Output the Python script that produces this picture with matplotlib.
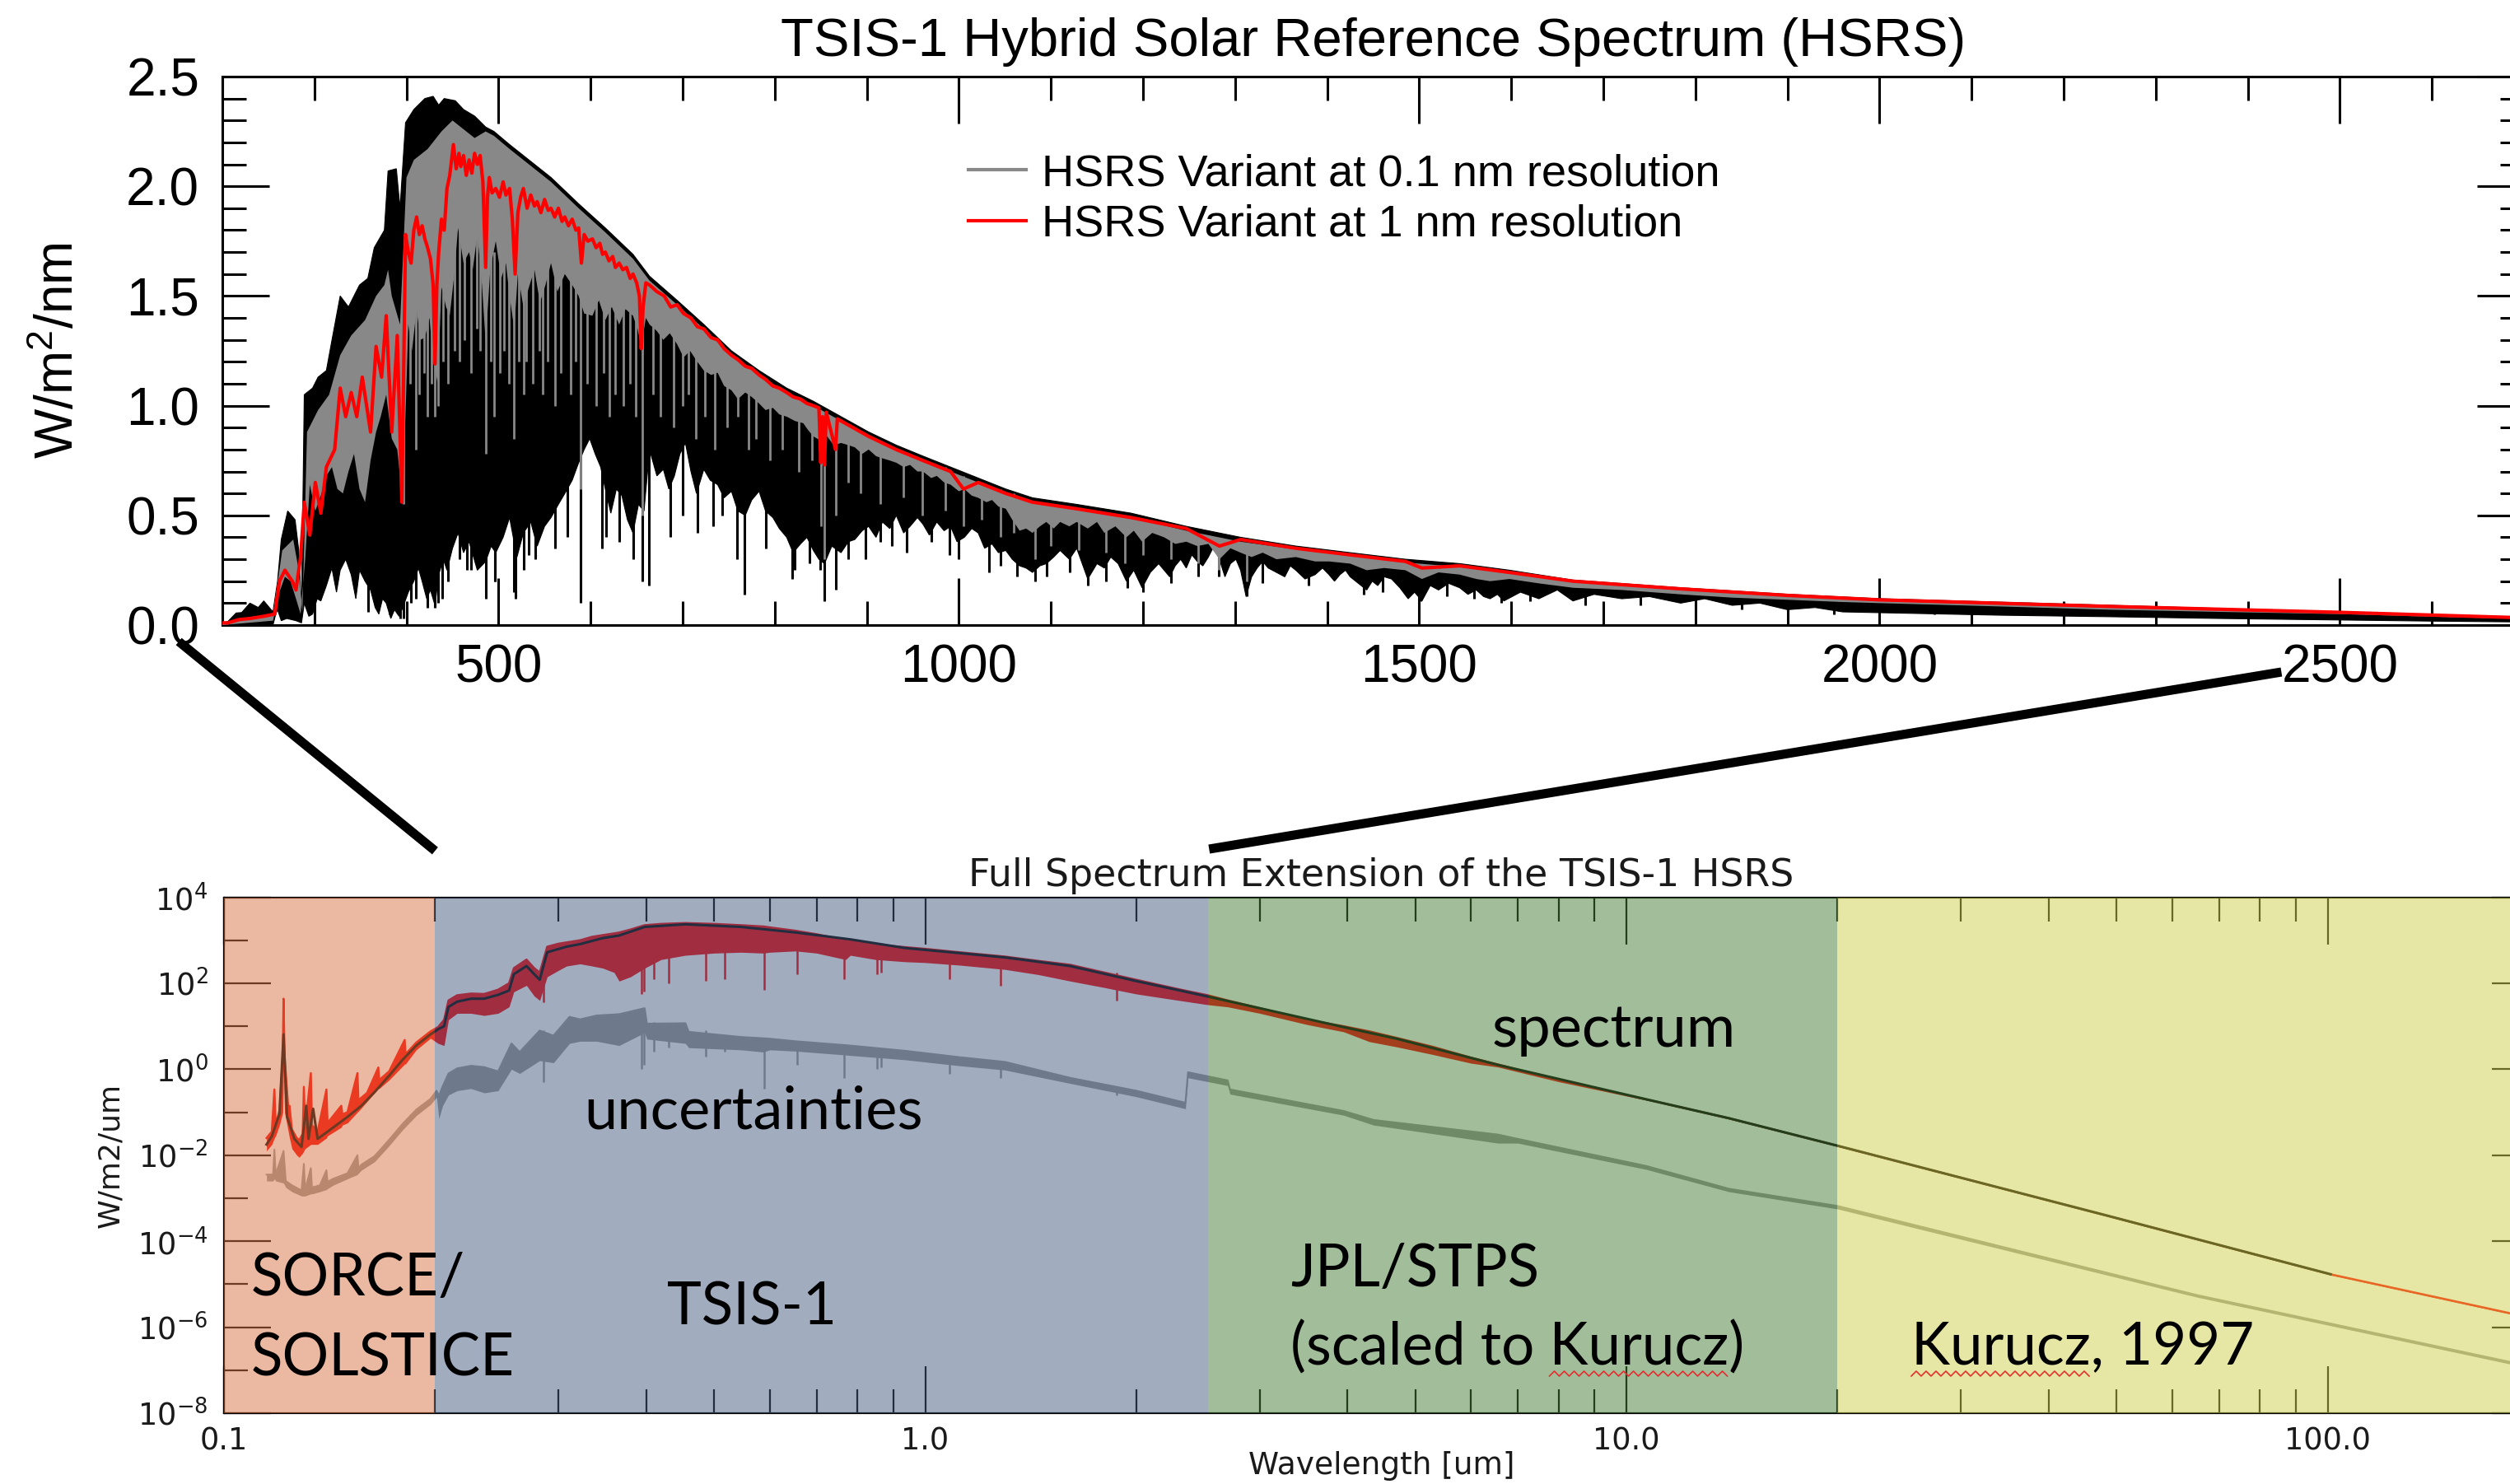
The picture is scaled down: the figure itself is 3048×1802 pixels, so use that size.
import numpy as np
import matplotlib
matplotlib.use("Agg")
import matplotlib.pyplot as plt
from matplotlib.patches import ConnectionPatch
from matplotlib.lines import Line2D
from matplotlib.ticker import (MultipleLocator, FixedLocator, FuncFormatter,
                               NullFormatter, LogLocator)

plt.rcParams['font.family'] = ['Liberation Sans', 'DejaVu Sans']

# ---------------------------------------------------------------------------
# Upper panel: HSRS in W/m^2/nm versus wavelength in nm
# ---------------------------------------------------------------------------
# high-resolution spectrum, upper envelope
hires_hi_nm = [200, 206, 215, 221, 230, 239, 245, 255, 260, 264, 271, 279, 283, 286,
               289, 298, 304, 313, 320, 328, 337, 349, 358, 365, 376, 380, 389, 393,
               399, 408, 420, 429, 435, 441, 453, 462, 474, 486, 495, 512, 527, 557,
               587, 616, 646, 664, 694, 723, 753, 783, 813, 842, 872, 902, 932, 961,
               991, 1021, 1051, 1080, 1128, 1187, 1247, 1306, 1366, 1425, 1485, 1544,
               1598, 1667, 1784, 1901, 2000, 2250, 2500, 2700]
hires_hi_val = [0.01, 0.016, 0.055, 0.057, 0.10, 0.08, 0.11, 0.06, 0.20, 0.39, 0.52, 0.48,
                0.34, 0.07, 1.05, 1.08, 1.13, 1.16, 1.32, 1.50, 1.45, 1.55, 1.58, 1.72,
                1.80, 2.07, 2.08, 1.90, 2.29, 2.35, 2.40, 2.41, 2.37, 2.40, 2.39, 2.35,
                2.32, 2.27, 2.25, 2.19, 2.14, 2.04, 1.92, 1.81, 1.69, 1.59, 1.48, 1.37,
                1.25, 1.16, 1.08, 1.02, 0.95, 0.88, 0.82, 0.77, 0.72, 0.67, 0.62, 0.58,
                0.55, 0.51, 0.45, 0.40, 0.36, 0.33, 0.30, 0.28, 0.25, 0.205, 0.17, 0.14,
                0.12, 0.09, 0.06, 0.035]

# high-resolution spectrum, lower envelope (line cores)
hires_lo_nm = [200, 255, 258, 260, 264, 270, 280, 286, 289, 294, 298, 303, 307, 313, 319,
               324, 328, 334, 340, 345, 349, 355, 361, 366, 370, 374, 378, 383, 387, 392,
               396, 402, 408, 413, 417, 422, 426, 431, 435, 440, 444, 450, 456, 462, 468,
               477, 486, 492, 497, 505, 512, 520, 527, 535, 542, 550, 557, 565, 572, 580,
               587, 593, 599, 605, 611, 617, 622, 628, 634, 640, 646, 652, 658, 664, 672,
               679, 685, 691, 697, 703, 709, 715, 723, 730, 738, 745, 753, 760, 768, 775,
               783, 790, 798, 805, 813, 820, 828, 835, 842, 848, 854, 862, 872, 880, 887,
               895, 902, 910, 917, 925, 932, 940, 947, 955, 961, 968, 976, 984, 991, 998,
               1006, 1014, 1021, 1028, 1036, 1043, 1051, 1058, 1066, 1073, 1080, 1088,
               1095, 1103, 1110, 1120, 1128, 1140, 1150, 1158, 1165, 1173, 1182, 1190,
               1199, 1208, 1217, 1223, 1229, 1235, 1241, 1247, 1253, 1259, 1265, 1271,
               1277, 1283, 1289, 1295, 1301, 1306, 1312, 1318, 1324, 1330, 1336, 1345,
               1354, 1360, 1366, 1376, 1387, 1395, 1402, 1408, 1414, 1420, 1425, 1434,
               1443, 1449, 1455, 1462, 1470, 1479, 1488, 1495, 1503, 1512, 1521, 1532,
               1544, 1553, 1562, 1570, 1577, 1585, 1592, 1610, 1630, 1650, 1667, 1690,
               1720, 1750, 1784, 1810, 1840, 1870, 1900, 1930, 1960, 2017, 2130, 2250,
               2370, 2483, 2600, 2700]
hires_lo_val = [0.00, 0.00, 0.05, 0.07, 0.02, 0.03, 0.02, 0.01, 0.10, 0.04, 0.05, 0.12, 0.11,
                0.18, 0.26, 0.15, 0.25, 0.30, 0.23, 0.12, 0.25, 0.20, 0.16, 0.08, 0.05,
                0.12, 0.10, 0.03, 0.07, 0.04, 0.08, 0.15, 0.20, 0.26, 0.20, 0.12, 0.16,
                0.09, 0.23, 0.30, 0.25, 0.35, 0.42, 0.33, 0.38, 0.25, 0.29, 0.36, 0.33,
                0.40, 0.49, 0.31, 0.42, 0.47, 0.36, 0.45, 0.49, 0.55, 0.60, 0.66, 0.74,
                0.80, 0.85, 0.78, 0.72, 0.60, 0.51, 0.62, 0.59, 0.48, 0.42, 0.55, 0.52,
                0.80, 0.68, 0.71, 0.62, 0.68, 0.78, 0.83, 0.70, 0.60, 0.71, 0.66, 0.64,
                0.58, 0.61, 0.52, 0.50, 0.57, 0.61, 0.52, 0.49, 0.44, 0.40, 0.33, 0.37,
                0.40, 0.34, 0.30, 0.28, 0.36, 0.33, 0.38, 0.39, 0.43, 0.45, 0.40, 0.47,
                0.44, 0.50, 0.42, 0.45, 0.49, 0.46, 0.41, 0.47, 0.43, 0.45, 0.38, 0.40,
                0.44, 0.42, 0.35, 0.37, 0.33, 0.34, 0.30, 0.27, 0.26, 0.24, 0.27, 0.28,
                0.31, 0.34, 0.30, 0.35, 0.21, 0.28, 0.26, 0.31, 0.28, 0.20, 0.25, 0.17,
                0.24, 0.28, 0.25, 0.22, 0.27, 0.30, 0.26, 0.32, 0.29, 0.27, 0.31, 0.36,
                0.30, 0.22, 0.28, 0.30, 0.25, 0.13, 0.22, 0.26, 0.29, 0.26, 0.24, 0.22,
                0.27, 0.25, 0.21, 0.23, 0.26, 0.23, 0.20, 0.23, 0.25, 0.22, 0.19, 0.16,
                0.20, 0.18, 0.22, 0.21, 0.17, 0.12, 0.15, 0.11, 0.18, 0.16, 0.19, 0.17,
                0.14, 0.16, 0.13, 0.12, 0.14, 0.11, 0.15, 0.12, 0.16, 0.11, 0.14, 0.12,
                0.13, 0.10, 0.12, 0.09, 0.10, 0.07, 0.08, 0.06, 0.055, 0.045, 0.038,
                0.03, 0.024, 0.018, 0.014]

# 0.1 nm variant, upper and lower envelopes
v01_hi_nm = [200, 255, 262, 265, 277, 283, 287, 292, 304, 316, 328, 340, 355, 367, 376,
             380, 384, 393, 400, 408, 423, 438, 450, 459, 474, 486, 495, 512, 527, 557,
             587, 616, 646, 664, 694, 723, 753, 783, 813, 842, 872, 902, 932, 961, 991,
             1021, 1051, 1080, 1128, 1187, 1247, 1306, 1366, 1425, 1485, 1544, 1598,
             1667, 1784, 1901, 2000, 2250, 2500, 2700]
v01_hi_val = [0.01, 0.05, 0.25, 0.34, 0.39, 0.25, 0.06, 0.88, 0.98, 1.05, 1.23, 1.32, 1.39,
              1.50, 1.55, 1.62, 1.50, 1.37, 2.04, 2.12, 2.17, 2.25, 2.30, 2.27, 2.22,
              2.25, 2.23, 2.17, 2.12, 2.02, 1.90, 1.79, 1.67, 1.57, 1.46, 1.35, 1.23,
              1.14, 1.06, 1.00, 0.93, 0.86, 0.80, 0.75, 0.70, 0.65, 0.60, 0.56, 0.53,
              0.49, 0.43, 0.38, 0.345, 0.315, 0.285, 0.265, 0.235, 0.195, 0.16, 0.13,
              0.11, 0.08, 0.055, 0.03]
v01_lo_nm = [200, 255, 262, 268, 274, 280, 285, 290, 295, 301, 307, 313, 319, 325, 331,
             337, 343, 349, 355, 361, 367, 372, 378, 384, 390, 396, 402, 406, 411, 415,
             420, 425, 429, 434, 438, 443, 447, 452, 456, 462, 468, 472, 477, 482, 486,
             491, 497, 503, 508, 512, 517, 521, 527, 533, 539, 545, 551, 557, 564, 572,
             580, 587, 593, 602, 609, 616, 623, 631, 638, 646, 651, 655, 660, 664, 672,
             679, 686, 694, 701, 708, 716, 723, 731, 738, 745, 753, 760, 768, 775, 783,
             790, 798, 805, 813, 822, 831, 836, 842, 850, 857, 864, 872, 880, 887, 895,
             902, 910, 917, 925, 932, 940, 947, 955, 961, 970, 976, 984, 991, 1000, 1006,
             1014, 1021, 1030, 1036, 1043, 1051, 1058, 1066, 1073, 1080, 1088, 1095,
             1103, 1110, 1120, 1128, 1140, 1150, 1158, 1170, 1182, 1190, 1199, 1210,
             1223, 1235, 1247, 1259, 1271, 1283, 1295, 1306, 1318, 1330, 1345, 1366,
             1387, 1402, 1425, 1443, 1462, 1485, 1503, 1521, 1544, 1562, 1577, 1598,
             1630, 1667, 1720, 1784, 1840, 1901, 1960, 2000, 2130, 2250, 2370, 2500,
             2600, 2700]
v01_lo_val = [0.00, 0.02, 0.15, 0.22, 0.20, 0.12, 0.05, 0.30, 0.64, 0.52, 0.59, 0.68, 0.72,
              0.62, 0.60, 0.70, 0.78, 0.62, 0.56, 0.75, 0.88, 0.95, 1.05, 0.85, 0.80,
              0.56, 1.37, 1.25, 1.44, 1.30, 1.31, 1.40, 1.21, 1.10, 1.54, 1.45, 1.41,
              1.60, 1.81, 1.65, 1.70, 1.62, 1.78, 1.55, 1.29, 1.62, 1.75, 1.58, 1.65,
              1.50, 1.35, 1.60, 1.45, 1.54, 1.62, 1.47, 1.55, 1.65, 1.52, 1.60, 1.55,
              1.50, 1.42, 1.41, 1.48, 1.39, 1.45, 1.37, 1.44, 1.41, 1.35, 1.27, 1.40,
              1.37, 1.34, 1.30, 1.33, 1.28, 1.22, 1.25, 1.20, 1.16, 1.14, 1.15, 1.09,
              1.07, 1.03, 1.06, 1.04, 1.01, 0.98, 0.99, 0.96, 0.95, 0.93, 0.92, 0.89,
              0.86, 0.84, 0.86, 0.82, 0.83, 0.82, 0.81, 0.78, 0.80, 0.77, 0.76, 0.75,
              0.74, 0.72, 0.73, 0.70, 0.70, 0.67, 0.68, 0.65, 0.64, 0.61, 0.62, 0.59,
              0.58, 0.56, 0.57, 0.54, 0.53, 0.48, 0.43, 0.44, 0.42, 0.45, 0.47, 0.44,
              0.47, 0.45, 0.47, 0.44, 0.47, 0.42, 0.45, 0.40, 0.43, 0.38, 0.42, 0.40,
              0.37, 0.38, 0.36, 0.37, 0.30, 0.35, 0.33, 0.31, 0.33, 0.30, 0.31, 0.29,
              0.29, 0.28, 0.25, 0.26, 0.25, 0.21, 0.24, 0.23, 0.21, 0.20, 0.21, 0.19,
              0.17, 0.16, 0.14, 0.125, 0.115, 0.105, 0.10, 0.085, 0.07, 0.06, 0.05,
              0.038, 0.028]

# 1 nm variant
v1_nm = [200, 206, 218, 230, 245, 257, 262, 268, 276, 280, 285, 289, 295, 301, 307, 313,
         322, 328, 334, 340, 346, 352, 361, 367, 373, 378, 384, 390, 395, 399, 402, 405,
         408, 411, 414, 417, 420, 423, 426, 429, 431, 433, 435, 438, 441, 444, 447, 451,
         454, 457, 459, 462, 465, 468, 471, 474, 477, 480, 483, 486, 488, 490, 493, 497,
         501, 505, 508, 512, 515, 518, 521, 524, 527, 531, 535, 539, 542, 546, 550, 554,
         557, 561, 565, 569, 572, 576, 580, 584, 587, 590, 593, 597, 602, 606, 610, 613,
         616, 620, 624, 627, 631, 635, 639, 643, 646, 650, 653, 655, 657, 660, 664, 672,
         680, 687, 694, 701, 709, 716, 723, 731, 738, 745, 753, 760, 768, 775, 783, 790,
         798, 805, 813, 820, 828, 835, 842, 848, 850, 852, 854, 856, 866, 868, 902, 932,
         961, 991, 1005, 1021, 1051, 1080, 1128, 1187, 1247, 1283, 1306, 1366, 1425,
         1485, 1503, 1544, 1598, 1667, 1784, 1901, 2000, 2250, 2500, 2700]
v1_val = [0.01, 0.01, 0.025, 0.03, 0.04, 0.05, 0.20, 0.25, 0.20, 0.16, 0.31, 0.56, 0.41,
          0.65, 0.51, 0.72, 0.80, 1.08, 0.95, 1.06, 0.95, 1.13, 0.88, 1.27, 1.13, 1.41,
          0.88, 1.32, 0.56, 1.78, 1.70, 1.65, 1.80, 1.86, 1.78, 1.82, 1.76, 1.72, 1.67,
          1.55, 1.19, 1.55, 1.70, 1.85, 1.80, 1.99, 2.05, 2.19, 2.08, 2.15, 2.09, 2.14,
          2.05, 2.12, 2.06, 2.15, 2.10, 2.14, 2.02, 1.63, 1.95, 2.04, 1.97, 1.99, 1.95,
          2.02, 1.96, 1.99, 1.85, 1.60, 1.88, 1.95, 1.99, 1.90, 1.96, 1.91, 1.93, 1.88,
          1.94, 1.89, 1.90, 1.86, 1.90, 1.84, 1.86, 1.82, 1.85, 1.80, 1.81, 1.65, 1.78,
          1.75, 1.76, 1.72, 1.74, 1.69, 1.70, 1.66, 1.68, 1.63, 1.65, 1.62, 1.63, 1.58,
          1.60, 1.56, 1.50, 1.26, 1.45, 1.56, 1.55, 1.52, 1.50, 1.45, 1.46, 1.42, 1.40,
          1.36, 1.35, 1.31, 1.30, 1.26, 1.23, 1.21, 1.18, 1.17, 1.14, 1.12, 1.09, 1.08,
          1.06, 1.04, 1.03, 1.01, 1.00, 0.99, 0.74, 0.95, 0.73, 0.97, 0.80, 0.94, 0.86,
          0.80, 0.75, 0.70, 0.62, 0.65, 0.60, 0.56, 0.53, 0.49, 0.44, 0.36, 0.39, 0.35,
          0.32, 0.29, 0.26, 0.27, 0.24, 0.20, 0.165, 0.135, 0.115, 0.085, 0.058, 0.033]

# deep absorption lines: wavelength, line core, continuum side
deep_nm = [358, 382, 393.4, 396.8, 404.6, 410.2, 422.7, 430.8, 434.0, 438.4, 445, 458,
           466.0, 470, 486.1, 495.7, 496, 516.7, 518.4, 527.0, 532.8, 540, 561, 575,
           589.0, 612.2, 617, 631, 646, 656.3, 663, 686.7, 700, 716, 733, 743, 759, 767,
           790, 819, 822, 838, 849.8, 854.2, 866.2, 880, 899, 915, 927, 943, 970, 990,
           1000, 1033, 1045, 1063, 1083, 1095, 1120, 1140, 1160, 1183, 1200, 1230, 1260,
           1282, 1313, 1330, 1380, 1440, 1460, 1501, 1530, 1560, 1589, 1620, 1680, 1740,
           1800, 1850, 1950, 2060, 2100]
deep_core = [0.06, 0.05, 0.03, 0.03, 0.10, 0.12, 0.08, 0.08, 0.10, 0.12, 0.20, 0.30, 0.25,
             0.25, 0.12, 0.20, 0.20, 0.15, 0.12, 0.25, 0.32, 0.30, 0.35, 0.40, 0.10, 0.35,
             0.40, 0.38, 0.30, 0.20, 0.18, 0.40, 0.50, 0.42, 0.45, 0.50, 0.30, 0.14, 0.35,
             0.21, 0.25, 0.28, 0.25, 0.11, 0.16, 0.30, 0.30, 0.38, 0.36, 0.33, 0.38, 0.32,
             0.30, 0.24, 0.27, 0.22, 0.20, 0.22, 0.24, 0.18, 0.20, 0.17, 0.15, 0.19, 0.22,
             0.22, 0.13, 0.19, 0.18, 0.14, 0.15, 0.11, 0.13, 0.12, 0.10, 0.11, 0.09, 0.09,
             0.08, 0.07, 0.05, 0.05, 0.04]
deep_top = [1.0, 1.0, 1.0, 1.0, 1.4, 1.5, 1.4, 1.3, 1.4, 1.5, 1.5, 1.7, 1.6, 1.6, 1.4,
            1.6, 1.6, 1.5, 1.5, 1.5, 1.5, 1.5, 1.5, 1.5, 1.5, 1.3, 1.3, 1.3, 1.3, 1.3,
            1.2, 1.2, 1.2, 1.1, 1.1, 1.05, 1.0, 1.0, 0.95, 0.9, 0.9, 0.85, 0.8, 0.8, 0.8,
            0.8, 0.78, 0.74, 0.7, 0.68, 0.65, 0.62, 0.6, 0.55, 0.52, 0.45, 0.42, 0.45,
            0.44, 0.42, 0.42, 0.4, 0.38, 0.37, 0.36, 0.32, 0.3, 0.3, 0.29, 0.25, 0.25,
            0.22, 0.23, 0.2, 0.2, 0.19, 0.16, 0.15, 0.13, 0.12, 0.1, 0.09, 0.09]

# same lines as seen in the 0.1 nm variant
v01_line_nm = [396.8, 404, 410.2, 414, 419, 423, 427, 430.8, 434.0, 440, 445, 452, 458,
               463, 470, 476, 480, 486.1, 492, 495.0, 501, 506, 511, 517, 522, 527, 530,
               537, 544, 548, 553, 561, 568, 578, 584, 589, 596, 606, 614, 620, 627, 636,
               643, 649, 656.3, 668, 676, 690, 700, 706, 714, 724, 735, 748, 760, 772, 780,
               795, 808, 826, 840, 850, 854.2, 866.2, 880, 893, 915, 940, 960, 985, 1005,
               1025, 1045, 1060, 1083, 1100, 1130, 1160, 1180, 1200, 1230, 1260, 1282, 1313]
v01_line_core = [0.55, 1.10, 0.80, 1.05, 1.15, 0.95, 1.10, 0.95, 1.00, 1.20, 1.10, 1.25,
                 1.20, 1.30, 1.15, 1.35, 1.25, 0.78, 1.20, 0.95, 1.15, 1.25, 1.10, 0.85,
                 1.20, 1.05, 1.20, 1.10, 1.25, 1.05, 1.20, 1.00, 1.15, 1.05, 1.20, 0.62,
                 1.10, 1.00, 1.15, 0.95, 1.05, 1.00, 1.10, 0.95, 0.50, 1.05, 0.95, 0.90,
                 1.00, 1.05, 0.85, 0.95, 0.80, 0.90, 0.95, 0.80, 0.85, 0.75, 0.80, 0.70,
                 0.75, 0.45, 0.30, 0.50, 0.65, 0.60, 0.55, 0.58, 0.50, 0.52, 0.45, 0.48,
                 0.40, 0.42, 0.30, 0.36, 0.34, 0.33, 0.28, 0.32, 0.30, 0.28, 0.25, 0.20]
v01_line_top = [1.3, 1.5, 1.5, 1.5, 1.6, 1.5, 1.6, 1.6, 1.6, 1.8, 1.7, 1.8, 1.9, 1.9, 1.9,
                1.9, 1.9, 1.6, 1.8, 1.7, 1.8, 1.8, 1.7, 1.6, 1.7, 1.6, 1.7, 1.7, 1.7,
                1.7, 1.7, 1.7, 1.7, 1.7, 1.7, 1.5, 1.6, 1.6, 1.5, 1.5, 1.5, 1.5, 1.5,
                1.5, 1.4, 1.45, 1.4, 1.4, 1.35, 1.3, 1.3, 1.25, 1.2, 1.15, 1.1, 1.1, 1.1,
                1.05, 1.0, 0.98, 0.95, 0.9, 0.9, 0.9, 0.88, 0.85, 0.8, 0.78, 0.75, 0.72,
                0.68, 0.65, 0.62, 0.6, 0.5, 0.52, 0.5, 0.48, 0.47, 0.45, 0.43, 0.41, 0.38,
                0.35]

legend_labels = ["HSRS Variant at 0.1 nm resolution", "HSRS Variant at 1 nm resolution"]

# ---------------------------------------------------------------------------
# Lower panel: full spectrum extension, W/m2/um versus wavelength in um (log10 values)
# ---------------------------------------------------------------------------
spec_um = [0.115, 0.117, 0.120, 0.1216, 0.123, 0.126, 0.129, 0.131, 0.132, 0.134, 0.136,
           0.143, 0.150, 0.157, 0.164, 0.172, 0.180, 0.188, 0.197, 0.202, 0.206, 0.209,
           0.215, 0.225, 0.235, 0.246, 0.255, 0.259, 0.270, 0.277, 0.282, 0.289, 0.308,
           0.322, 0.347, 0.366, 0.398, 0.455, 0.546, 0.654, 0.782, 0.935, 1.12, 1.30,
           1.609, 2.0, 2.53, 3.95, 4.7, 6.56, 10.67, 14.0, 20.0, 48.6, 101.0]
spec_log10 = [-1.75, -1.56, -1.04, 0.81, -1.10, -1.62, -1.81, -0.85, -1.62, -0.92, -1.62,
              -1.36, -1.11, -0.85, -0.53, -0.15, 0.23, 0.55, 0.81, 0.93, 1.00, 1.45, 1.57,
              1.64, 1.64, 1.73, 1.83, 2.21, 2.40, 2.21, 2.08, 2.72, 2.85, 2.91, 3.05,
              3.11, 3.31, 3.37, 3.31, 3.18, 3.02, 2.82, 2.70, 2.60, 2.40, 2.05, 1.69,
              0.98, 0.71, 0.10, -0.70, -1.14, -1.78, -3.41, -4.77]

# high-resolution spectrum (upper / lower envelope)
hr_um = [0.115, 0.117, 0.118, 0.1185, 0.120, 0.1213, 0.1216, 0.1220, 0.1235, 0.124, 0.125,
         0.127, 0.128, 0.1295, 0.130, 0.1305, 0.133, 0.1335, 0.136, 0.140, 0.1405, 0.147,
         0.1475, 0.150, 0.155, 0.1555, 0.160, 0.166, 0.1665, 0.172, 0.181, 0.1815, 0.188,
         0.197, 0.202, 0.206, 0.209, 0.215, 0.225, 0.235, 0.246, 0.255, 0.259, 0.270,
         0.277, 0.282, 0.289, 0.300, 0.308, 0.322, 0.335, 0.347, 0.360, 0.366, 0.380,
         0.398, 0.42, 0.455, 0.50, 0.546, 0.588, 0.60, 0.654, 0.70, 0.77, 0.782, 0.85,
         0.935, 1.0, 1.12, 1.30, 1.45, 1.609, 1.8, 2.0, 2.3, 2.53, 2.7, 3.0, 3.5, 3.95,
         4.3, 4.7, 5.3, 6.0, 6.56, 8.0, 10.67, 14.0, 20.0, 48.6, 101.0, 200.0]
hr_hi_log10 = [-1.60, -1.45, -0.47, -1.30, -0.95, 0.30, 1.64, 0.30, -0.90, -0.85, -1.40,
               -1.60, -1.65, -1.50, -0.41, -1.40, -0.09, -1.30, -1.45, -0.47, -1.25,
               -0.85, -1.05, -1.00, -0.09, -0.72, -0.55, 0.04, -0.25, -0.05, 0.68, 0.35,
               0.62, 0.88, 0.98, 1.15, 1.60, 1.72, 1.76, 1.75, 1.85, 2.00, 2.35, 2.55,
               2.35, 2.25, 2.85, 2.92, 2.95, 3.00, 3.08, 3.12, 3.16, 3.18, 3.25, 3.35,
               3.38, 3.40, 3.38, 3.35, 3.32, 3.30, 3.22, 3.14, 3.00, 2.98, 2.90, 2.84,
               2.80, 2.72, 2.62, 2.52, 2.43, 2.25, 2.08, 1.86, 1.72, 1.60, 1.42, 1.15,
               1.00, 0.88, 0.73, 0.52, 0.27, 0.11, -0.25, -0.70, -1.14, -1.78, -3.41,
               -4.77, -5.82]
hr_lo_log10 = [-1.90, -1.75, -1.60, -1.55, -1.30, -1.00, 0.00, -1.00, -1.45, -1.60, -1.85,
               -2.00, -2.05, -1.95, -1.90, -1.85, -1.75, -1.75, -1.75, -1.60, -1.55,
               -1.35, -1.30, -1.25, -1.00, -0.98, -0.75, -0.45, -0.45, -0.25, 0.12, 0.12,
               0.45, 0.72, 0.60, 0.55, 1.15, 1.30, 1.30, 1.25, 1.30, 1.45, 1.80, 1.95,
               1.70, 1.60, 2.15, 2.30, 2.40, 2.45, 2.40, 2.35, 2.25, 2.05, 2.15, 2.35,
               2.55, 2.65, 2.70, 2.72, 2.70, 2.72, 2.75, 2.70, 2.55, 2.65, 2.55, 2.50,
               2.48, 2.42, 2.32, 2.20, 2.05, 1.90, 1.75, 1.60, 1.50, 1.45, 1.30, 1.04,
               0.87, 0.64, 0.52, 0.34, 0.14, 0.05, -0.29, -0.72, -1.16, -1.80, -3.43,
               -4.79, -5.84]

# individual deep lines in the high-resolution spectrum
hr_line_um = [0.2852, 0.3934, 0.3968, 0.4102, 0.4308, 0.4861, 0.5172, 0.5890, 0.6563,
              0.7665, 0.8542, 0.8662, 1.083, 1.282, 1.876]
hr_line_core = [1.55, 1.75, 1.80, 2.10, 2.00, 2.05, 2.10, 1.85, 2.20, 2.10, 2.20, 2.25,
                2.10, 1.95, 1.60]
hr_line_top = [2.60, 3.25, 3.25, 3.35, 3.38, 3.39, 3.38, 3.32, 3.22, 3.02, 2.90, 2.88,
               2.72, 2.62, 2.24]

# uncertainties (upper / lower envelope)
unc_um = [0.115, 0.1175, 0.118, 0.1185, 0.1216, 0.1225, 0.125, 0.129, 0.130, 0.1305, 0.133,
          0.1335, 0.137, 0.140, 0.1405, 0.143, 0.150, 0.155, 0.1555, 0.157, 0.164, 0.172,
          0.180, 0.188, 0.197, 0.201, 0.2025, 0.205, 0.209, 0.215, 0.225, 0.235, 0.246,
          0.257, 0.264, 0.282, 0.295, 0.311, 0.322, 0.340, 0.366, 0.398, 0.401, 0.455,
          0.46, 0.546, 0.588, 0.60, 0.654, 0.77, 0.782, 0.935, 1.12, 1.30, 1.609, 2.0,
          2.35, 2.37, 2.70, 2.72, 3.95, 4.36, 6.56, 7.0, 10.67, 14.0, 20.0, 65.0, 200.0]
unc_hi_log10 = [-2.45, -2.45, -1.87, -2.45, -1.90, -2.60, -2.70, -2.82, -2.20, -2.80, -2.30,
                -2.75, -2.70, -2.35, -2.62, -2.55, -2.42, -2.00, -2.30, -2.22, -2.02,
                -1.64, -1.26, -0.94, -0.69, -0.50, -0.62, -0.40, -0.10, 0.02, 0.08, 0.05,
                -0.05, 0.60, 0.40, 0.90, 0.78, 1.22, 1.16, 1.25, 1.28, 1.42, 1.06, 1.07,
                0.87, 0.75, 0.72, 0.71, 0.65, 0.56, 0.55, 0.43, 0.28, 0.17, -0.20, -0.50,
                -0.78, -0.07, -0.26, -0.47, -0.97, -1.18, -1.52, -1.62, -2.25, -2.78,
                -3.18, -5.25, -6.95]
unc_lo_log10 = [-2.60, -2.60, -2.55, -2.60, -2.65, -2.75, -2.85, -2.95, -2.95, -2.95, -2.90,
                -2.90, -2.85, -2.80, -2.78, -2.70, -2.55, -2.45, -2.42, -2.35, -2.15,
                -1.78, -1.40, -1.08, -0.82, -0.65, -1.15, -0.85, -0.60, -0.50, -0.45,
                -0.55, -0.50, 0.00, -0.10, 0.20, 0.15, 0.60, 0.65, 0.65, 0.55, 0.85, 0.70,
                0.60, 0.50, 0.45, 0.40, 0.45, 0.42, 0.33, 0.32, 0.22, 0.08, -0.02,
                -0.33, -0.64, -0.92, -0.20, -0.38, -0.58, -1.07, -1.30, -1.72, -1.72,
                -2.33, -2.85, -3.25, -5.30, -7.00]

# individual deep lines in the uncertainties
unc_line_um = [0.2852, 0.3934, 0.3968, 0.4102, 0.4308, 0.4861, 0.5172, 0.5890, 0.6563,
               0.7665, 0.8542, 0.8662, 1.083, 1.282, 1.876]
unc_line_core = [-0.30, 0.00, 0.10, 0.40, 0.50, 0.30, 0.40, -0.45, 0.10, -0.20, 0.00,
                 0.05, -0.10, -0.20, -0.60]
unc_line_top = [0.90, 1.30, 1.35, 1.10, 1.07, 0.90, 0.80, 0.72, 0.65, 0.56, 0.50, 0.48,
                0.27, 0.17, -0.40]

# source regions along the wavelength axis
region_edges_um = [0.1, 0.2, 2.53, 20.0, 200.0]
region_colors = ['#D97545', '#455B81', '#477D37', '#D1D14D']
region_labels = [["SORCE/", "SOLSTICE"], ["TSIS-1"], ["JPL/STPS", "(scaled to Kurucz)"],
                 ["Kurucz, 1997"]]

# ---------------------------------------------------------------------------
W, H = 3048, 1802
fig = plt.figure(figsize=(W / 100, H / 100), dpi=100)

low_font = 'DejaVu Sans'

# ---------------- upper panel ----------------
ax1 = fig.add_axes([270 / W, 1 - 759 / H, 2795 / W, 666 / H])
hx = np.asarray(hires_hi_nm, float); hy = np.asarray(hires_hi_val, float)
lx = np.asarray(hires_lo_nm, float); ly = np.asarray(hires_lo_val, float)
ax1.fill(np.r_[hx, lx[::-1]], np.r_[hy, ly[::-1]], color='black', lw=0.8, zorder=2)
ax1.vlines(deep_nm, deep_core, deep_top, color='black', lw=2.2, zorder=2.1)

gx = np.asarray(v01_hi_nm, float); gy = np.asarray(v01_hi_val, float)
glx = np.asarray(v01_lo_nm, float); gly = np.asarray(v01_lo_val, float)
ax1.fill(np.r_[gx, glx[::-1]], np.r_[gy, gly[::-1]], color='#888888', lw=0, zorder=3)
ax1.vlines(v01_line_nm, v01_line_core, v01_line_top, color='#888888', lw=2.0, zorder=3.1)

ax1.plot(v1_nm, v1_val, color='red', lw=3.0, zorder=4)

ax1.set_xlim(200, 2700)
ax1.set_ylim(0, 2.5)
ax1.xaxis.set_major_locator(MultipleLocator(500))
ax1.xaxis.set_minor_locator(MultipleLocator(100))
ax1.yaxis.set_major_locator(MultipleLocator(0.5))
ax1.yaxis.set_minor_locator(MultipleLocator(0.1))
ax1.xaxis.set_major_formatter(FuncFormatter(lambda v, p: f"{v:.0f}"))
ax1.yaxis.set_major_formatter(FuncFormatter(lambda v, p: f"{v:.1f}"))
ax1.tick_params(which='both', direction='in', top=True, right=True, width=2.2,
                labelsize=46, colors='black')
ax1.tick_params(which='major', length=41)
ax1.tick_params(which='minor', length=21)
ax1.tick_params(axis='x', which='major', pad=16)
ax1.tick_params(axis='y', which='major', pad=20)
for s in ax1.spines.values():
    s.set_linewidth(2.2)
ax1.set_title("TSIS-1 Hybrid Solar Reference Spectrum (HSRS)", fontsize=47, pad=18)
ax1.set_ylabel("W/m$^{\\mathdefault{2}}$/nm", fontsize=46)
ax1.yaxis.set_label_coords(-0.060, 0.50)

leg_handles = [Line2D([], [], color='#888888', lw=3), Line2D([], [], color='red', lw=3)]
ax1.legend(leg_handles, legend_labels, loc='upper left',
           bbox_to_anchor=(1176 / W, 1 - 186 / H), bbox_transform=fig.transFigure,
           frameon=False, fontsize=39, handlelength=1.3, handletextpad=0.35,
           labelspacing=0.22, borderpad=0, borderaxespad=0)

# ---------------- lower panel ----------------
ax2 = fig.add_axes([272 / W, 1 - 1716 / H, 2811 / W, 626.5 / H])
ax2.set_xscale('log')
ax2.set_yscale('log')

unc_x = np.asarray(unc_um)
ax2.fill_between(unc_x, 10 ** np.asarray(unc_lo_log10), 10 ** np.asarray(unc_hi_log10),
                 color='#999999', lw=0, zorder=2)
ax2.plot(unc_x, 10 ** np.asarray(unc_hi_log10), color='#999999', lw=1.5, zorder=2)
ax2.vlines(unc_line_um, 10 ** np.asarray(unc_line_core), 10 ** np.asarray(unc_line_top),
           color='#999999', lw=1.8, zorder=2)

hr_x = np.asarray(hr_um)
ax2.fill_between(hr_x, 10 ** np.asarray(hr_lo_log10), 10 ** np.asarray(hr_hi_log10),
                 color='red', lw=0, zorder=3)
ax2.plot(hr_x, 10 ** np.asarray(hr_hi_log10), color='red', lw=1.8, zorder=3)
ax2.vlines(hr_line_um, 10 ** np.asarray(hr_line_core), 10 ** np.asarray(hr_line_top),
           color='red', lw=1.8, zorder=3)

ax2.plot(spec_um, 10 ** np.asarray(spec_log10), color='black', lw=2.2, zorder=4)

for a, b, c in zip(region_edges_um[:-1], region_edges_um[1:], region_colors):
    ax2.axvspan(a, b, color=c, alpha=0.5, lw=0, zorder=5)

ax2.set_xlim(0.1, 200)
ax2.set_ylim(1e-8, 1e4)
ax2.xaxis.set_major_locator(FixedLocator([0.1, 1.0, 10.0, 100.0]))
ax2.xaxis.set_minor_locator(LogLocator(base=10, subs=np.arange(2, 10), numticks=30))
ax2.xaxis.set_major_formatter(FuncFormatter(lambda v, p: f"{v:.1f}"))
ax2.xaxis.set_minor_formatter(NullFormatter())
ax2.yaxis.set_major_locator(FixedLocator([10.0 ** k for k in range(-8, 5, 2)]))
ax2.yaxis.set_minor_locator(FixedLocator([10.0 ** k for k in range(-7, 4, 2)]))
ax2.yaxis.set_major_formatter(
    FuncFormatter(lambda v, p: "$\\mathdefault{10^{%d}}$" % round(np.log10(v))))
ax2.yaxis.set_minor_formatter(NullFormatter())
ax2.tick_params(which='both', direction='in', top=True, right=True, width=1.6,
                labelsize=26.5, labelcolor='#1a1a1a', labelfontfamily=low_font)
ax2.tick_params(which='major', length=41)
ax2.tick_params(which='minor', length=21)
ax2.tick_params(axis='x', which='major', pad=11)
ax2.tick_params(axis='y', which='major', pad=14)
for s in ax2.spines.values():
    s.set_linewidth(1.6)
ax2.set_title("Full Spectrum Extension of the TSIS-1 HSRS", fontsize=33,
              fontfamily=low_font, color='#1a1a1a', pad=10)
ax2.set_xlabel("Wavelength [um]", fontsize=27, fontfamily=low_font, color='#1a1a1a')
ax2.xaxis.set_label_coords(0.5, -0.074)
ax2.set_ylabel("W/m2/um", fontsize=26, fontfamily=low_font, color='#1a1a1a')
ax2.yaxis.set_label_coords(-0.043, 0.5)

# region annotations (axes fraction, baseline-aligned)
note_font = dict(fontfamily='Lato', fontsize=51, color='black', va='baseline',
                 ha='left', zorder=10)
note_pos = [[(0.0117, 0.2283), (0.0117, 0.0734)], [(0.1914, 0.1708)],
            [(0.4607, 0.2458), (0.4607, 0.0942)], [(0.7289, 0.0942)]]
note_artists = []
for lines, pos in zip(region_labels, note_pos):
    for txt, (x, y) in zip(lines, pos):
        note_artists.append(ax2.text(x, y, txt, transform=ax2.transAxes, **note_font))
ax2.text(0.1555, 0.5507, "uncertainties", transform=ax2.transAxes,
         **dict(note_font, fontsize=52))
ax2.text(0.5476, 0.7103, "spectrum", transform=ax2.transAxes,
         **dict(note_font, fontsize=52))

# zoom connectors between the two panels
for xa, ya, xb, yb in [(152.7, -0.075, 0.2, 10 ** 5.08), (2436.5, -0.214, 2.54, 10 ** 5.12)]:
    con = ConnectionPatch(xyA=(xa, ya), coordsA=ax1.transData,
                          xyB=(xb, yb), coordsB=ax2.transData,
                          color='black', lw=8, capstyle='butt', zorder=20)
    fig.add_artist(con)

# spell-check style wavy underline below the word "Kurucz"
fig.canvas.draw()
renderer = fig.canvas.get_renderer()


def word_span(text_artist, word):
    s = text_artist.get_text()
    i = s.index(word)
    fp = text_artist.get_fontproperties()
    w_pre, _, _ = renderer.get_text_width_height_descent(s[:i], fp, ismath=False)
    w_word, _, _ = renderer.get_text_width_height_descent(word, fp, ismath=False)
    x0_px, y_px = text_artist.get_transform().transform(text_artist.get_position())
    return x0_px + w_pre, x0_px + w_pre + w_word, y_px


for t in note_artists:
    if "Kurucz" in t.get_text():
        xa_px, xb_px, yb_px = word_span(t, "Kurucz")
        xs = np.arange(xa_px, xb_px, 6.0)
        ys = yb_px - 11 + 3.0 * (np.arange(len(xs)) % 2 * 2 - 1)
        pts = fig.transFigure.inverted().transform(np.column_stack([xs, ys]))
        fig.add_artist(Line2D(pts[:, 0], pts[:, 1], color='#e03030', lw=1.2, zorder=11))

fig.savefig("out.png", dpi=100)
